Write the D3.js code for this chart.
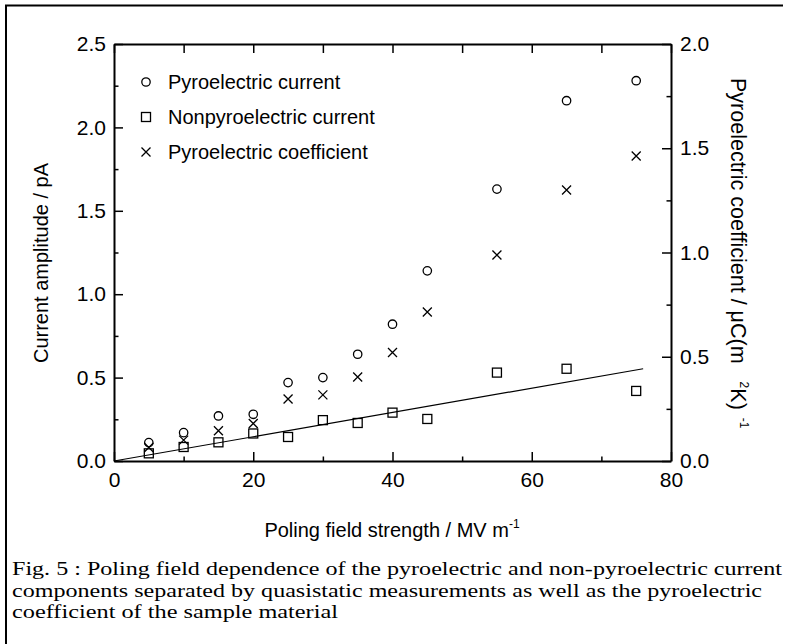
<!DOCTYPE html>
<html>
<head>
<meta charset="utf-8">
<script src="https://cdn.jsdelivr.net/npm/d3@7"></script>
<style>
  html, body { margin: 0; padding: 0; background: #fff; }
  svg { display: block; }
  .sans { font-family: "Liberation Sans", Arial, Helvetica, sans-serif; }
  .serif { font-family: "Liberation Serif", serif; }
</style>
</head>
<body>
<div id="chart"></div>
<script>
// Poling field (MV/m) at which each sample was measured
const field = [5, 10, 15, 20, 25, 30, 35, 40, 45, 55, 65, 75];
// Pyroelectric current amplitude (pA) – left axis
const pyroCurrent = [0.11, 0.17, 0.27, 0.28, 0.47, 0.50, 0.64, 0.82, 1.14, 1.63, 2.16, 2.28];
// Nonpyroelectric current amplitude (pA) – left axis
const nonPyroCurrent = [0.046, 0.084, 0.112, 0.165, 0.144, 0.245, 0.228, 0.29, 0.252, 0.53, 0.553, 0.42];
// Pyroelectric coefficient (µC m^-2 K^-1) – right axis
const pyroCoeff = [0.065, 0.10, 0.145, 0.18, 0.297, 0.317, 0.403, 0.52, 0.715, 0.988, 1.30, 1.463];
// Linear fit through the nonpyroelectric current (endpoints)
const fitField = [0, 76];
const fitCurrent = [0, 0.553];

const xTicks = [0, 20, 40, 60, 80];
const leftTicks = [0, 0.5, 1.0, 1.5, 2.0, 2.5];
const rightTicks = [0, 0.5, 1.0, 1.5, 2.0];

const legendItems = ["Pyroelectric current", "Nonpyroelectric current", "Pyroelectric coefficient"];
const captionLines = [
  "Fig. 5 : Poling field dependence of the pyroelectric and non-pyroelectric current",
  "components separated by quasistatic measurements as well as the pyroelectric",
  "coefficient of the sample material"
];
// printed width of each caption line
const captionWidths = [770, 750, 326];

const W = 787, H = 644;
const plot = { left: 114, right: 671, top: 44, bottom: 461 };

const svg = d3.select("#chart").append("svg")
  .attr("width", W).attr("height", H);

// figure frame (left and top edges)
svg.append("path")
  .attr("d", `M6,${H} V5.5 H783`)
  .attr("fill", "none").attr("stroke", "#000").attr("stroke-width", 2);

const x = d3.scaleLinear().domain([0, 80]).range([plot.left, plot.right]);
const yL = d3.scaleLinear().domain([0, 2.5]).range([plot.bottom, plot.top]);
const yR = d3.scaleLinear().domain([0, 2.0]).range([plot.bottom, plot.top]);

const fmt = d3.format(".1f");
const major = 9, minor = 4.5;
const tickFont = 21;

function styleAxis(g) {
  g.select(".domain").attr("stroke-width", 2).attr("stroke", "#000");
  g.selectAll(".tick line").attr("stroke-width", 1.5).attr("stroke", "#000");
  g.selectAll("text").attr("class", "sans").attr("font-size", tickFont).attr("fill", "#000");
}
function minorAxis(g) {
  g.select(".domain").remove();
  g.selectAll(".tick line").attr("stroke", "#000").attr("stroke-width", 1.5);
}

// bottom axis: major ticks with labels, minor ticks between
svg.append("g").attr("transform", `translate(0,${plot.bottom})`)
  .call(d3.axisBottom(x).tickValues(d3.range(10, 80, 20)).tickSize(-minor).tickFormat(""))
  .call(minorAxis);
svg.append("g").attr("transform", `translate(0,${plot.bottom})`)
  .call(d3.axisBottom(x).tickValues(xTicks).tickSizeInner(-major).tickSizeOuter(0).tickPadding(11).tickFormat(d3.format("d")))
  .call(styleAxis);

// top axis: ticks every 10, no labels
svg.append("g").attr("transform", `translate(0,${plot.top})`)
  .call(d3.axisTop(x).tickValues(d3.range(0, 81, 10)).tickSizeInner(-major).tickSizeOuter(0).tickFormat(""))
  .call(styleAxis);

// left axis
svg.append("g").attr("transform", `translate(${plot.left},0)`)
  .call(d3.axisLeft(yL).tickValues(d3.range(0.25, 2.5, 0.5)).tickSize(-minor).tickFormat(""))
  .call(minorAxis);
svg.append("g").attr("transform", `translate(${plot.left},0)`)
  .call(d3.axisLeft(yL).tickValues(leftTicks).tickSizeInner(-major).tickSizeOuter(0).tickPadding(8).tickFormat(fmt))
  .call(styleAxis);

// right axis
svg.append("g").attr("transform", `translate(${plot.right},0)`)
  .call(d3.axisRight(yR).tickValues(d3.range(0.25, 2.0, 0.5)).tickSize(-minor).tickFormat(""))
  .call(minorAxis);
svg.append("g").attr("transform", `translate(${plot.right},0)`)
  .call(d3.axisRight(yR).tickValues(rightTicks).tickSizeInner(-major).tickSizeOuter(0).tickPadding(9).tickFormat(fmt))
  .call(styleAxis);

// linear fit line
const fitLine = d3.line().x(d => x(d[0])).y(d => yL(d[1]));
svg.append("path")
  .datum(d3.zip(fitField, fitCurrent))
  .attr("d", fitLine)
  .attr("fill", "none").attr("stroke", "#000").attr("stroke-width", 1.2);

// marker shapes
const sym = {
  circle: g => g.append("circle").attr("r", 4.2),
  square: g => g.append("rect").attr("x", -4.5).attr("y", -4.5).attr("width", 9).attr("height", 9),
  cross: g => g.append("path").attr("d", "M-4.5,-4.5L4.5,4.5M-4.5,4.5L4.5,-4.5")
};
function drawMarks(vals, scale, shape) {
  const g = svg.append("g");
  g.selectAll("g").data(d3.zip(field, vals)).join("g")
    .attr("transform", d => `translate(${x(d[0])},${scale(d[1])})`)
    .each(function () { sym[shape](d3.select(this)); })
    .attr("fill", "none").attr("stroke", "#000").attr("stroke-width", 1.3);
}
drawMarks(pyroCurrent, yL, "circle");
drawMarks(nonPyroCurrent, yL, "square");
drawMarks(pyroCoeff, yR, "cross");

// legend
const shapes = ["circle", "square", "cross"];
legendItems.forEach((label, i) => {
  const cy = 82 + i * 35;
  const m = svg.append("g").attr("transform", `translate(146,${cy})`)
    .attr("fill", "none").attr("stroke", "#000").attr("stroke-width", 1.3);
  sym[shapes[i]](m);
  svg.append("text").attr("class", "sans").attr("x", 168).attr("y", cy + 7)
    .attr("font-size", 20).text(label);
});

// axis titles
svg.append("text").attr("class", "sans").attr("font-size", 20)
  .attr("text-anchor", "middle")
  .attr("transform", `translate(48,263) rotate(-90)`)
  .text("Current amplitude / pA");

const xt = svg.append("text").attr("class", "sans").attr("font-size", 20)
  .attr("text-anchor", "middle").attr("x", 392).attr("y", 537);
xt.append("tspan").text("Poling field strength / MV m");
xt.append("tspan").attr("font-size", 12).attr("dy", -9).text("-1");

const rt = svg.append("text").attr("class", "sans").attr("font-size", 21.5)
  .attr("transform", `translate(731,78) rotate(90)`);
rt.append("tspan").text("Pyroelectric coefficient / μC(m");
rt.append("tspan").attr("font-size", 12).attr("dx", 18).attr("dy", -9).text("2");
rt.append("tspan").attr("dy", 9).text("K)");
rt.append("tspan").attr("font-size", 12).attr("dx", 8).attr("dy", -9).text("-1");

// caption
captionLines.forEach((line, i) => {
  svg.append("text").attr("class", "serif").attr("font-size", 19)
    .attr("x", 12).attr("y", 575 + i * 21.5)
    .attr("textLength", captionWidths[i]).attr("lengthAdjust", "spacingAndGlyphs")
    .text(line);
});
</script>
</body>
</html>
